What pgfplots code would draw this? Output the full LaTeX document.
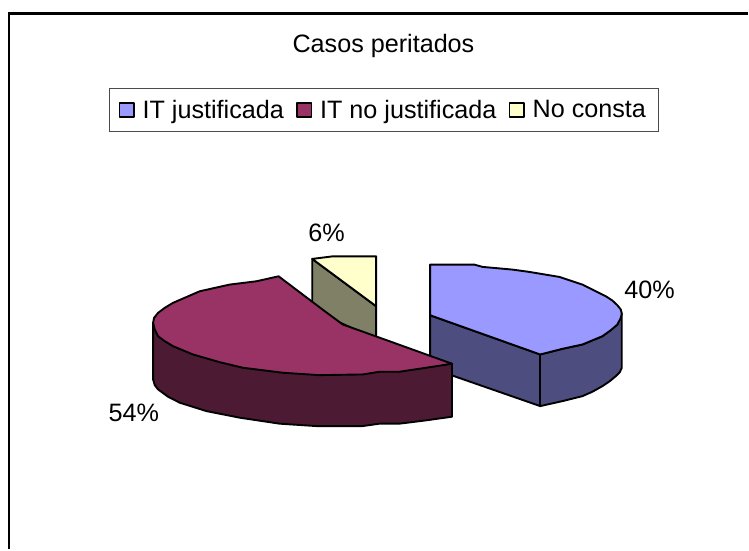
\documentclass[border=0pt]{standalone}
\usepackage{fontspec}
\setmainfont{Liberation Sans}
\usepackage{pgfplots}
\pgfplotsset{compat=1.18}
\definecolor{azul}{HTML}{9999FF}
\definecolor{azulos}{HTML}{4D4D80}
\definecolor{rojo}{HTML}{993366}
\definecolor{rojoos}{HTML}{4D1A33}
\definecolor{crema}{HTML}{FFFFCC}
\definecolor{oliva}{HTML}{808066}
\newcommand{\txt}{\fontsize{25.3}{30}\selectfont}
\begin{document}
\begin{tikzpicture}[x=1bp,y=1bp]
\begin{axis}[
scale only axis,
width=749bp,
height=550bp,
xmin=0,xmax=749,
ymin=0,ymax=550,
y dir=reverse,
hide axis,
clip=false,
legend columns=3,
legend style={at={(axis cs:384.7,110)},anchor=center,draw=black!70,line width=0.7pt,
  font=\txt,inner xsep=4.5bp,inner ysep=8bp,
  nodes={inner xsep=8bp,inner ysep=4bp},
  /tikz/every even column/.style={column sep=0bp}},
legend cell align=left,
every axis plot/.append style={line width=1.9bp,draw=black,line join=round},
legend image code/.code={\path[draw=none,fill=none] (-5bp,0bp) -- (14.5bp,0bp);\draw[#1,line width=1.6bp] (0bp,-7bp) rectangle (14.5bp,7bp);},
]
% blue slice: side, then top
\addplot[fill=azulos,forget plot] coordinates {
(430.7,315.7)(541,355)(563.3,349.3)(583.3,345)(603.3,336.7)(618.3,325)(622.7,314)
(622.7,368.3)(620.7,372.7)(616.7,376.7)(610.7,381.7)(603.3,386.7)(593.3,392.3)
(583.3,396.7)(563.3,401.7)(541,406.7)(452.7,376)(430.7,368)} -- cycle;
\addplot[draw=black,forget plot] coordinates {(541,355)(541,406.7)};
\addplot[fill=azul] coordinates {
(430.7,265)(475,265)(483.3,267.3)(513.3,270)(530,272.3)(560,277.3)(583.3,285)
(606.7,296.7)(613.3,301)(618.3,305.7)(621.7,310)(622.7,314)(621.7,318.3)(618.3,325)
(611.7,330.7)(603.3,336.7)(583.3,345)(563.3,349.3)(541,355)(430.7,315.7)} -- cycle;
\addlegendentry{IT justificada}
% olive side of the small slice
\addplot[fill=oliva,forget plot] coordinates {
(312.7,259.3)(376.7,306.7)(376.7,340)(312.7,310)} -- cycle;
% red slice: side, then top
\addplot[fill=rojoos,forget plot] coordinates {
(153.3,323.3)(153.3,380)(155,385.7)(158.3,390)(168.3,397.3)(180,403.3)(206.7,411.7)
(240,418.3)(280,424.3)(316.7,426.7)(363.3,426.7)(380,424.3)(400,424.3)(426.7,421)
(452.7,417.3)(452.7,364.3)} -- cycle;
\addplot[fill=rojo] coordinates {
(279,276.7)(256.7,281.7)(230,285)(200,291.7)(173.3,303.3)(165,308.3)(158.3,313.3)
(154.3,318.3)(153.3,323.3)(155,330)(158.3,336.7)(165,341.7)(173.3,346.7)(193.3,355)
(220,362.7)(243.3,368.3)(283.3,373.3)(320,375.7)(363.3,375)(380,372.3)(400,372.3)
(426.7,368.3)(452.7,364.3)(390,341.7)(343.3,325)(323,310)} -- cycle;
\addlegendentry{IT no justificada}
% small slice top
\addplot[fill=crema] coordinates {
(312.7,259.3)(333.3,256.7)(376.7,256.7)(376.7,306.7)} -- cycle;
\addlegendentry{No consta}
\path (axis cs:0,0) rectangle (axis cs:749,550);
\draw[line width=2.2bp,black] (axis cs:9.3,550) -- (axis cs:9.3,13.5) -- (axis cs:749,13.5);
\node[font=\txt,anchor=base] at (axis cs:384,53) {Casos peritados};
\node[font=\txt] at (axis cs:650.5,290) {40\%};
\node[font=\txt] at (axis cs:134,414) {54\%};
\node[font=\txt] at (axis cs:327,233) {6\%};
\end{axis}
\end{tikzpicture}
\end{document}
